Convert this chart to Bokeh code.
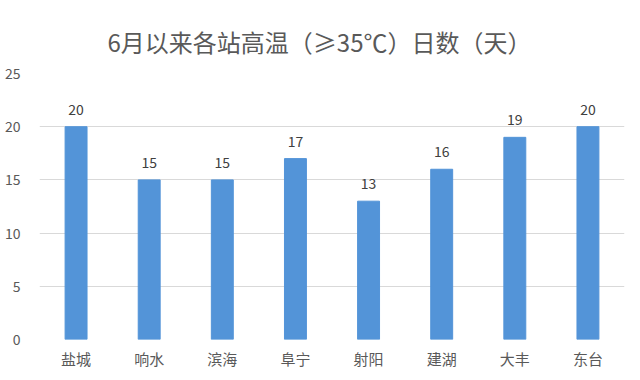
from bokeh.plotting import figure
from bokeh.models import ColumnDataSource, LabelSet, FactorRange, Range1d, SingleIntervalTicker
from bokeh.core.properties import value
from bokeh.embed import file_html
from bokeh.resources import INLINE

stations = ["盐城", "响水", "滨海", "阜宁", "射阳", "建湖", "大丰", "东台"]
days = [20, 15, 15, 17, 13, 16, 19, 20]
title_text = "6月以来各站高温（≥35℃）日数（天）"

src = ColumnDataSource(dict(x=stations, y=days, t=[str(v) for v in days]))

FONT = "Noto Sans CJK SC"
p = figure(x_range=FactorRange(*stations, range_padding=0), y_range=Range1d(0, 25),
           frame_width=585, frame_height=266, output_backend="svg", toolbar_location=None,
           title=title_text, min_border_left=39, min_border_right=16,
           min_border_bottom=30, min_border_top=73)
p.title.align = "left"
p.title.offset = 68
p.title.vertical_align = "bottom"
p.title.text_font = FONT
p.title.text_font_size = "24px"
p.title.text_font_style = "normal"
p.title.text_color = "#595959"
p.title.standoff = 29

p.vbar(x="x", top="y", width=0.3, source=src, color="#5394D8")
p.add_layout(LabelSet(x="x", y="y", text="t", source=src, text_align="center",
                      text_baseline="bottom", y_offset=12, text_font_size="14px",
                      text_color="#404040", text_font=value(FONT)))

p.outline_line_color = None
p.xgrid.grid_line_color = None
p.ygrid.grid_line_color = "#d9d9d9"
p.yaxis.ticker = SingleIntervalTicker(interval=5)
for ax in (p.xaxis, p.yaxis):
    ax.axis_line_color = None
    ax.major_tick_line_color = None
    ax.minor_tick_line_color = None
    ax.major_tick_out = 0
    ax.major_tick_in = 0
    ax.major_label_text_color = "#595959"
    ax.major_label_text_font = FONT
p.yaxis.major_label_text_font_size = "14px"
p.yaxis.major_label_standoff = 15
p.xaxis.major_label_text_font_size = "15px"
p.xaxis.major_label_text_line_height = 0.8
p.xaxis.major_label_standoff = 8

open("out.html", "w").write(file_html(p, INLINE))
